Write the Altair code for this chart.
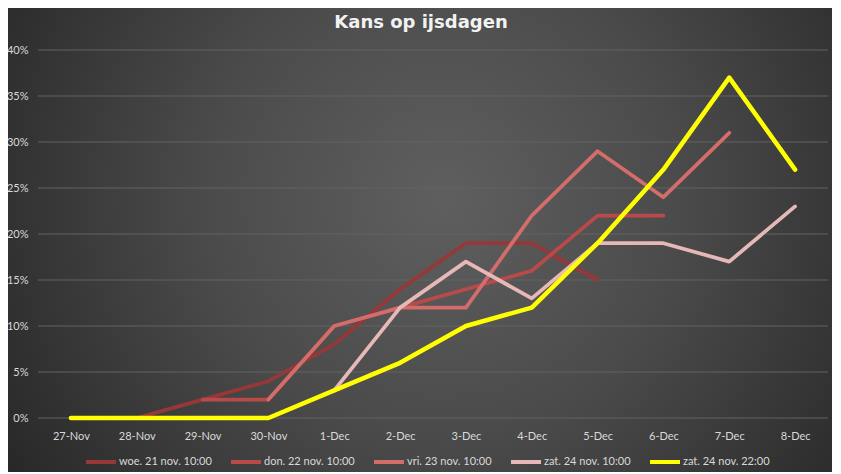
import altair as alt
import pandas as pd

categories = ["27-Nov", "28-Nov", "29-Nov", "30-Nov", "1-Dec", "2-Dec",
              "3-Dec", "4-Dec", "5-Dec", "6-Dec", "7-Dec", "8-Dec"]
series_names = ["woe. 21 nov. 10:00", "don. 22 nov. 10:00", "vri. 23 nov. 10:00",
                "zat. 24 nov. 10:00", "zat. 24 nov. 22:00"]
woe = [None, 0, 2, 4, 8, 14, 19, 19, 15, None, None, None]
don = [None, None, 2, 2, 10, 12, 14, 16, 22, 22, None, None]
vri = [None, None, None, 2, 10, 12, 12, 22, 29, 24, 31, None]
zat10 = [None, None, None, None, 3, 12, 17, 13, 19, 19, 17, 23]
zat22 = [0, 0, 0, 0, 3, 6, 10, 12, 19, 27, 37, 27]
y_ticks = [0, 5, 10, 15, 20, 25, 30, 35, 40]
colors = ["#963838", "#b94a49", "#d36d6b", "#e6b8b7", "#ffff00"]
title_text = "Kans op ijsdagen"

rows = []
for name, vals in zip(series_names, [woe, don, vri, zat10, zat22]):
    for i, (c, v) in enumerate(zip(categories, vals)):
        if v is not None:
            rows.append({"date": c, "idx": i, "value": v, "series": name})
df = pd.DataFrame(rows)
grid_df = pd.DataFrame({"tick": y_ticks})

W, H = 790, 368

x_enc = alt.X("date:O", sort=categories,
              scale=alt.Scale(type="point", padding=0.5, domain=categories),
              axis=alt.Axis(title=None, labelAngle=0, ticks=False, domain=False,
                            grid=False, labelColor="#d9d9d9", labelFontSize=11,
                            labelFont="Lato", labelPadding=12, zindex=2))
y_scale = alt.Scale(domain=[0, 40], nice=False)
y_axis = alt.Axis(title=None, values=y_ticks, labelExpr="datum.value + '%'",
                  ticks=False, domain=False, grid=False,
                  labelColor="#d9d9d9", labelFontSize=11, labelFont="Lato",
                  labelPadding=10, zindex=2)

bg = alt.Chart(alt.Data(values=[{"a": 1}])).mark_rect(
    fill=alt.RadialGradient(
        gradient="radial",
        stops=[alt.GradientStop(color="#5f5f5f", offset=0),
               alt.GradientStop(color="#4b4b4b", offset=0.45),
               alt.GradientStop(color="#272727", offset=1)],
        x1=0.53, y1=0.45, r1=0, x2=0.53, y2=0.45, r2=0.62),
    strokeWidth=0,
).encode(x=alt.value(-40), x2=alt.value(W + 10), y=alt.value(-45), y2=alt.value(H + 56))

title = alt.Chart(alt.Data(values=[{"a": 1}])).mark_text(
    text=title_text, color="#f2f2f2", fontSize=18, font="DejaVu Sans", fontWeight="bold",
    align="center", baseline="middle",
).encode(x=alt.value(W / 2 - 12), y=alt.value(-27))

grid = alt.Chart(grid_df).mark_rule(color="#626262", strokeWidth=1).encode(
    y=alt.Y("tick:Q", scale=y_scale, axis=y_axis),
    x=alt.value(0), x2=alt.value(W),
)

lines = alt.Chart(df).mark_line(strokeCap="round", strokeJoin="round").encode(
    x=x_enc,
    y=alt.Y("value:Q", scale=y_scale, axis=y_axis),
    color=alt.Color("series:N", sort=series_names,
                    scale=alt.Scale(domain=series_names, range=colors),
                    legend=alt.Legend(title=None, orient="none", direction="horizontal",
                                      columns=5, legendX=46, legendY=H + 27,
                                      symbolType="stroke", symbolStrokeWidth=4,
                                      symbolSize=900, labelColor="#d9d9d9",
                                      labelFontSize=11, labelFont="Lato",
                                      labelOffset=1, columnPadding=11, zindex=2)),
    strokeWidth=alt.condition(alt.datum.series == "zat. 24 nov. 22:00",
                              alt.value(4.5), alt.value(3.75)),
    order=alt.Order("idx:Q"),
)

chart = alt.layer(bg, title, grid, lines).properties(
    width=W, height=H,
    autosize=alt.AutoSizeParams(type="none"),
    padding={"left": 30, "top": 42, "right": 4, "bottom": 54},
    background="#2b2b2b",
).configure_view(stroke=None)

chart.save("out.html", embed_options={"renderer": "svg", "actions": False})
